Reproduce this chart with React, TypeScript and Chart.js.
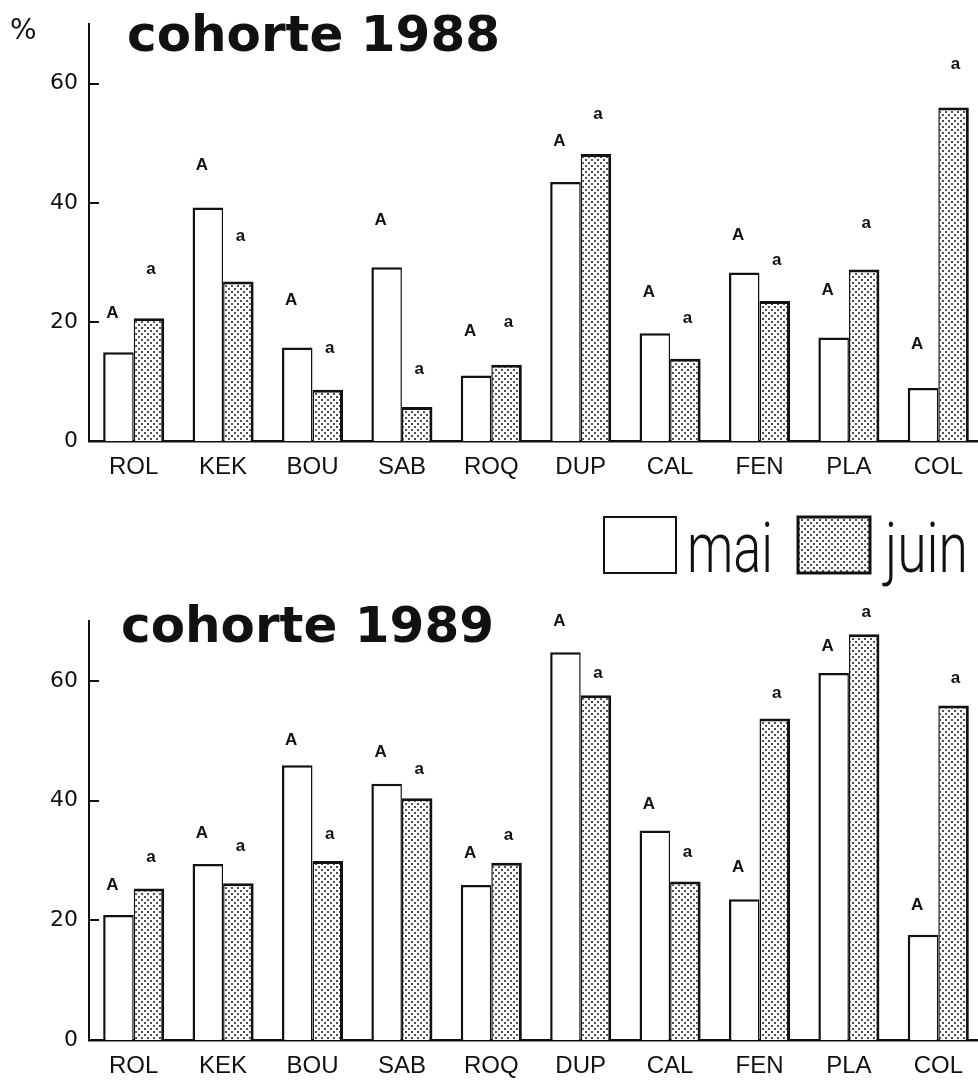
import React, { useEffect, useRef } from "react";
import { Chart, registerables } from "chart.js";

Chart.register(...registerables);

// ---------- data ----------
const categories = ["ROL", "KEK", "BOU", "SAB", "ROQ", "DUP", "CAL", "FEN", "PLA", "COL"];
const seriesNames = ["mai", "juin"];
const yTicks = [0, 20, 40, 60];

const mai1988 = [14.9, 39.2, 15.7, 29.2, 11.0, 43.5, 18.1, 28.3, 17.4, 8.9];
const juin1988 = [20.6, 26.8, 8.6, 5.7, 12.8, 48.2, 13.8, 23.5, 28.8, 56.0];
const mai1989 = [20.9, 29.4, 45.9, 42.8, 25.9, 64.8, 35.0, 23.5, 61.3, 17.6];
const juin1989 = [25.3, 26.2, 29.9, 40.4, 29.6, 57.6, 26.5, 53.7, 67.8, 55.9];

// level (in %) at which the significance letters sit
const maiLetterLevel1988 = [21.4, 46.3, 23.7, 37.0, 18.5, 50.4, 24.9, 34.6, 25.3, 16.3];
const juinLetterLevel1988 = [28.9, 34.3, 15.6, 12.0, 20.0, 54.8, 20.6, 30.4, 36.5, 63.3];
const maiLetterLevel1989 = [25.8, 34.6, 50.0, 48.0, 31.2, 70.0, 39.3, 28.9, 65.8, 22.5];
const juinLetterLevel1989 = [30.6, 32.3, 34.3, 45.3, 34.2, 61.2, 31.4, 57.9, 71.5, 60.4];
const maiLetter = "A";
const juinLetter = "a";

const INK = "#111111";

function makeStipple(): CanvasPattern | string {
  const c = document.createElement("canvas");
  c.width = 6;
  c.height = 6;
  const g = c.getContext("2d");
  if (!g) return "#cccccc";
  g.fillStyle = "#fbfbfb";
  g.fillRect(0, 0, 6, 6);
  g.fillStyle = "#505050";
  g.fillRect(0, 0, 2, 2);
  g.fillRect(3, 3, 2, 2);
  return g.createPattern(c, "repeat") || "#cccccc";
}

function drawCondensed(ctx: CanvasRenderingContext2D, text: string, x: number, y: number, targetW: number) {
  const w = ctx.measureText(text).width || 1;
  ctx.save();
  ctx.translate(x, y);
  ctx.scale(targetW / w, 1);
  ctx.fillText(text, 0, 0);
  ctx.restore();
}

type Props = {
  height: number;
  mai: number[];
  juin: number[];
  maiLetters: number[];
  juinLetters: number[];
  title: string;
  titleX: number;
  titleBaseline: number;
  padTop: number;
  padBottom: number;
  xAxisHeight: number;
  showPercent: boolean;
  showLegend: boolean;
};

function CohortChart(p: Props) {
  const ref = useRef<HTMLCanvasElement | null>(null);
  useEffect(() => {
    if (!ref.current) return;
    const stipple = makeStipple();
    const annot = {
      id: "annot" + p.title.replace(/\s/g, ""),
      afterDraw(chart: any) {
        const { ctx, chartArea, scales } = chart;
        const y = scales.y;
        ctx.save();
        // inward tick marks on y axis
        ctx.strokeStyle = INK;
        ctx.lineWidth = 2;
        yTicks.forEach((v) => {
          if (v === 0) return;
          const py = Math.round(y.getPixelForValue(v));
          ctx.beginPath();
          ctx.moveTo(chartArea.left, py);
          ctx.lineTo(chartArea.left + 10, py);
          ctx.stroke();
        });
        // significance letters
        ctx.fillStyle = INK;
        ctx.font = 'bold 17px "Liberation Sans", Arial, sans-serif';
        ctx.textAlign = "center";
        ctx.textBaseline = "middle";
        const sets = [
          { text: maiLetter, levels: p.maiLetters, dx: -6 },
          { text: juinLetter, levels: p.juinLetters, dx: 2 },
        ];
        sets.forEach((s, d) => {
          const meta = chart.getDatasetMeta(d);
          s.levels.forEach((lv, i) => {
            const el = meta.data[i];
            if (!el) return;
            ctx.fillText(s.text, el.x + s.dx, y.getPixelForValue(lv));
          });
        });
        // title
        ctx.textAlign = "left";
        ctx.textBaseline = "alphabetic";
        ctx.font = 'bold 50px "DejaVu Sans", sans-serif';
        ctx.fillText(p.title, p.titleX, p.titleBaseline);
        // percent unit
        if (p.showPercent) {
          ctx.font = '28px "DejaVu Sans", sans-serif';
          ctx.fillText("%", 10, 39);
        }
        // legend
        if (p.showLegend) {
          const boxTop = 517;
          const boxH = 56;
          const boxW = 72;
          const entries = [
            { name: seriesNames[0], x: 604, fill: "#ffffff", lw: 2, textX: 687, textW: 86 },
            { name: seriesNames[1], x: 798, fill: stipple, lw: 3, textX: 885, textW: 83 },
          ];
          entries.forEach((e) => {
            ctx.fillStyle = e.fill as any;
            ctx.fillRect(e.x, boxTop, boxW, boxH);
            ctx.strokeStyle = INK;
            ctx.lineWidth = e.lw;
            ctx.strokeRect(e.x, boxTop, boxW, boxH);
            ctx.fillStyle = INK;
            ctx.font = '300 70px Roboto, "Liberation Sans", sans-serif';
            drawCondensed(ctx, e.name, e.textX, 572, e.textW);
          });
        }
        ctx.restore();
      },
    };

    const chart = new Chart(ref.current, {
      type: "bar",
      data: {
        labels: categories,
        datasets: [
          {
            label: seriesNames[0],
            data: p.mai,
            backgroundColor: "#ffffff",
            borderColor: INK,
            borderWidth: { left: 2.5, top: 2.5, right: 1.5, bottom: 0 } as any,
            borderSkipped: "start",
            categoryPercentage: 0.683,
            barPercentage: 1,
          },
          {
            label: seriesNames[1],
            data: p.juin,
            backgroundColor: stipple as any,
            borderColor: INK,
            borderWidth: { left: 1.5, top: 3, right: 3, bottom: 0 } as any,
            borderSkipped: "start",
            categoryPercentage: 0.683,
            barPercentage: 1,
          },
        ],
      },
      options: {
        animation: false,
        responsive: false,
        devicePixelRatio: 1,
        layout: { padding: { top: p.padTop, left: 0, right: 0, bottom: p.padBottom } },
        plugins: {
          legend: { display: false },
          title: { display: false },
          tooltip: { enabled: false },
        },
        scales: {
          x: {
            type: "category",
            offset: true,
            z: 1,
            grid: { display: false, drawTicks: false },
            border: { display: true, color: INK, width: 2.5 },
            ticks: {
              color: INK,
              font: { family: '"Liberation Sans", Arial, sans-serif', size: 24 },
              padding: 12,
              maxRotation: 0,
              autoSkip: false,
            },
            afterFit: (s: any) => {
              s.height = p.xAxisHeight;
            },
          },
          y: {
            type: "linear",
            min: 0,
            max: 70,
            z: 1,
            grid: { display: false, drawTicks: false },
            border: { display: true, color: INK, width: 2 },
            ticks: {
              color: INK,
              font: { family: '"DejaVu Sans", sans-serif', size: 22 },
              padding: 11,
              includeBounds: false,
            },
            afterBuildTicks: (s: any) => {
              s.ticks = yTicks.map((v) => ({ value: v }));
            },
            afterFit: (s: any) => {
              s.width = 89;
            },
          },
        },
      },
      plugins: [annot as any],
    });
    return () => chart.destroy();
  }, []);
  return <canvas ref={ref} width={983} height={p.height} style={{ display: "block" }} />;
}

export default function App() {
  return (
    <div
      style={{
        position: "absolute",
        left: 0,
        top: 0,
        width: 978,
        height: 1082,
        overflow: "hidden",
        background: "#ffffff",
      }}
    >
      <CohortChart
        height={590}
        mai={mai1988}
        juin={juin1988}
        maiLetters={maiLetterLevel1988}
        juinLetters={juinLetterLevel1988}
        title="cohorte 1988"
        titleX={127}
        titleBaseline={51}
        padTop={22}
        padBottom={99}
        xAxisHeight={50}
        showPercent={true}
        showLegend={true}
      />
      <CohortChart
        height={492}
        mai={mai1989}
        juin={juin1989}
        maiLetters={maiLetterLevel1989}
        juinLetters={juinLetterLevel1989}
        title="cohorte 1989"
        titleX={121}
        titleBaseline={52}
        padTop={31}
        padBottom={0}
        xAxisHeight={42}
        showPercent={false}
        showLegend={false}
      />
    </div>
  );
}
